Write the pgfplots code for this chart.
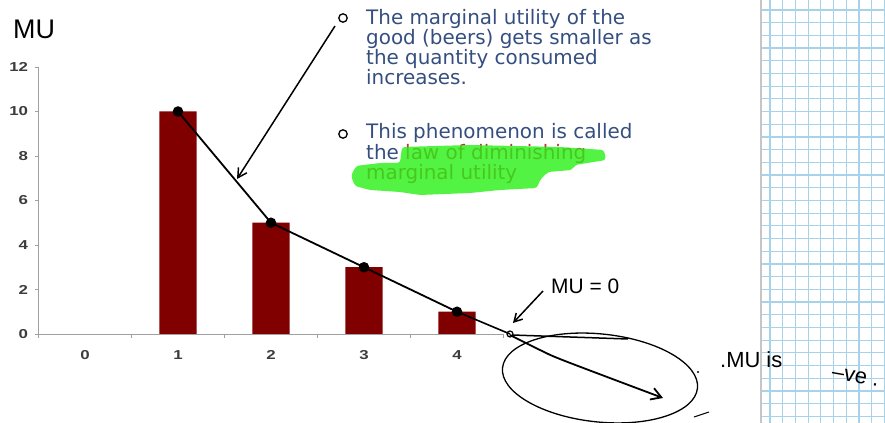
\documentclass[border=0pt]{standalone}
\usepackage{pgfplots}
\pgfplotsset{compat=1.18}
\usepackage{fontspec}
\setmainfont{Liberation Sans}
\newfontfamily\slidefont{DejaVu Sans}
\newfontfamily\tickfont[FakeStretch=1.3]{Liberation Sans Bold}
\usetikzlibrary{arrows.meta}
\definecolor{barred}{RGB}{128,0,0}
\definecolor{slideblue}{RGB}{52,78,128}
\definecolor{slidered}{RGB}{196,44,64}
\definecolor{hilite}{RGB}{40,240,20}
\definecolor{gridblue}{RGB}{168,210,234}
\definecolor{axisgray}{RGB}{160,160,160}
\definecolor{ticktext}{RGB}{60,60,60}

\begin{document}
\begin{tikzpicture}
\path[use as bounding box] (0bp,0bp) rectangle (885bp,423bp);

% graph paper strip on the right
\begin{scope}[x=1bp, y=-1bp, yshift=423bp]
  \foreach \k in {0,...,32} {\draw[gridblue, line width=1.2bp] (761,10+12.7*\k) -- (885,10+12.7*\k);}
  \foreach \k in {0,...,9} {\draw[gridblue, line width=1.2bp] (770+12.7*\k,0) -- (770+12.7*\k,423);}
  \draw[gray!45, line width=1.5bp] (761,0) -- (761,423);
\end{scope}

\begin{axis}[
  at={(38.5bp,89bp)}, anchor=south west, scale only axis,
  width=465bp, height=267bp,
  xmin=-0.5, xmax=4.5, ymin=0, ymax=12,
  axis x line=bottom, axis y line=left,
  axis line style={axisgray, line width=0.9bp, -},
  xtick={-0.5,0.5,...,4.5}, x tick label as interval,
  xticklabels={0,1,2,3,4},
  ytick={0,2,...,12},
  tick align=outside, major tick length=4bp,
  tick style={axisgray, line width=0.9bp},
  /pgf/number format/assume math mode=true,
  ticklabel style={font=\tickfont\fontsize{13}{15}\selectfont, text=ticktext},
  x tick label style={yshift=-9bp},
  y tick label style={xshift=-3bp},
  clip=false, bar width=0.4,
]
% marginal utility of each beer (the first one is zero)
\addplot[ybar, fill=barred, draw=none] coordinates {(1,10) (2,5) (3,3) (4,1)};
\addplot[black, line width=1.8bp, mark=*, mark size=4.3bp, mark options={fill=black}]
  coordinates {(1,10) (2,5) (3,3) (4,1)};
% curve reaching MU = 0
\addplot[black, line width=1.6bp] coordinates {(4,1) (4.57,0)};
\addplot[only marks, mark=o, mark size=3bp, black, line width=1.2bp, mark options={fill=white}]
  coordinates {(4.57,0)};
\end{axis}

\begin{scope}[x=1bp, y=-1bp, yshift=423bp]
  % slide text
  \begin{scope}[every node/.style={anchor=base west, inner sep=0pt, text=slideblue,
      font=\slidefont\fontsize{20}{20}\selectfont}]
    \node at (366,25) {The marginal utility of the};
    \node at (366,45) {good (beers) gets smaller as};
    \node at (366,65) {the quantity consumed};
    \node at (366,85) {increases.};
    \node at (366,139) {This phenomenon is called};
    \node at (366,160) {the \textcolor{slidered}{law of diminishing}};
    \node at (366,180) {\textcolor{slidered}{marginal utility}};
  \end{scope}
  \draw[black, line width=1.3bp] (343,18) circle (4.2bp);
  \draw[black, line width=1.3bp] (343,134) circle (4.2bp);
  % highlighter
  \fill[hilite, opacity=0.8, rounded corners=3bp]
    (402,147) -- (470,145) -- (560,147) -- (604,150) -- (606,160) -- (575,165) -- (572,170)
    -- (548,172) -- (540,180) -- (537,188) -- (500,190) -- (470,193) -- (420,195)
    -- (400,192) -- (370,190) -- (355,186) -- (351,176) -- (356,166) -- (380,163)
    -- (400,163) -- cycle;

  % handwritten notes
  \node[anchor=base west, inner sep=0pt, font=\fontsize{27}{27}\selectfont] at (13,39) {MU};
  \draw[black, line width=1.5bp, -{Straight Barb[length=9bp,width=10bp]}] (335,26) -- (237,179);
  \node[anchor=base west, inner sep=0pt, font=\fontsize{21}{21}\selectfont] at (551,294) {MU = 0};
  \draw[black, line width=1.5bp, -{Straight Barb[length=8bp,width=9bp]}] (543,291) -- (513,323);
  \draw[black, line width=1.5bp] (512,335) -- (628,339);
  \draw[black, line width=1.8bp, -{Straight Barb[length=10bp,width=12bp]}]
    plot[smooth] coordinates {(510,335) (540,350) (565,361) (663,398)};
  \draw[black, line width=1.3bp, rotate around={-6:(600,378)}] (600,378) ellipse [x radius=98bp, y radius=44bp];
  \draw[black, line width=1bp] (694,417) -- (709,412);
  \fill (698,372) circle (1.2bp);
  \node[anchor=base west, inner sep=0pt, font=\fontsize{22}{22}\selectfont] at (720,368) {.MU is};
  \node[anchor=base west, inner sep=0pt, rotate=-10, font=\fontsize{22}{22}\selectfont] at (831,378) {–ve .};
\end{scope}
\end{tikzpicture}
\end{document}
